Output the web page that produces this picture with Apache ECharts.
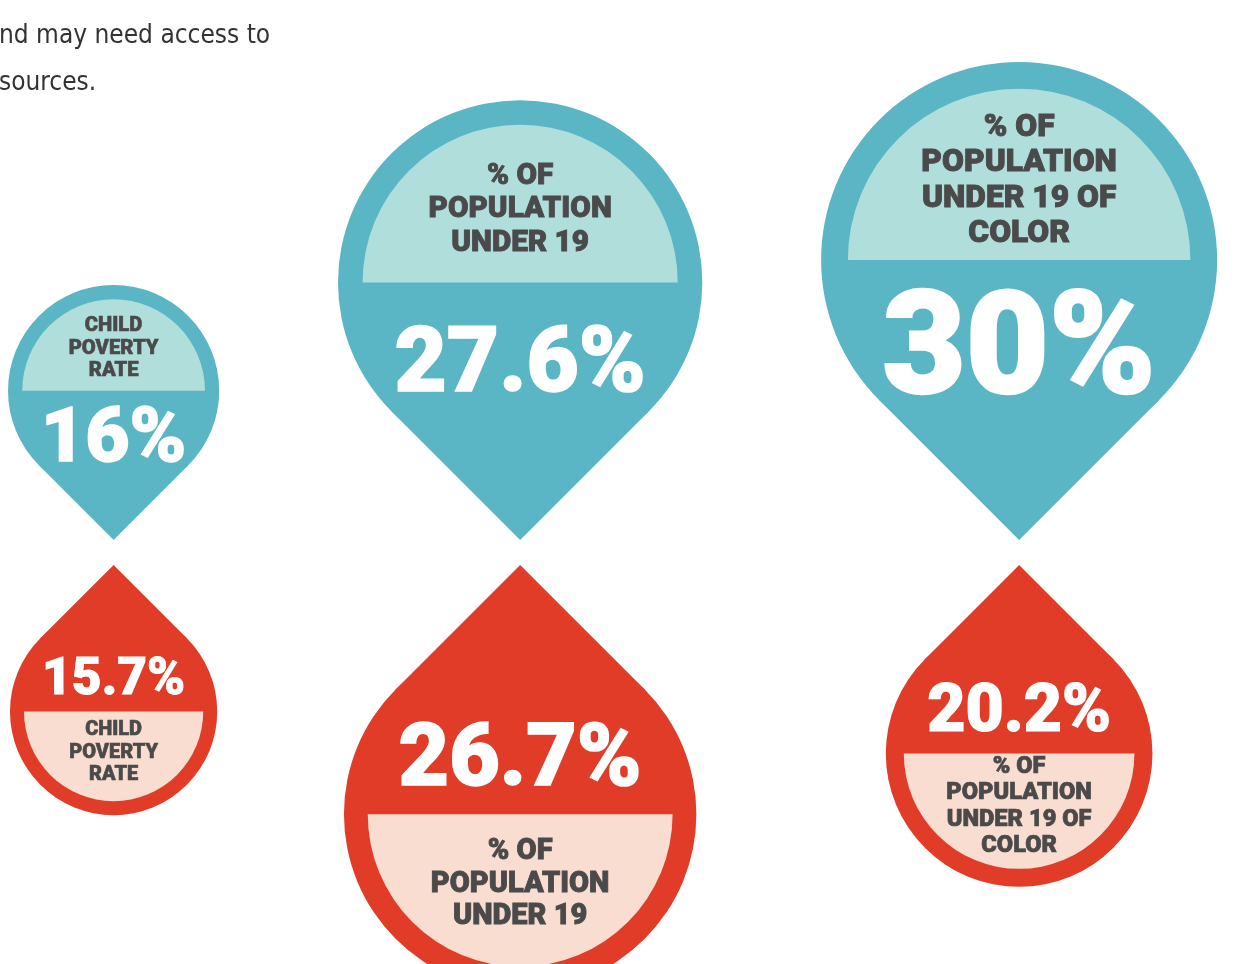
<!DOCTYPE html>
<html>
<head>
<meta charset="utf-8">
<title>Pins</title>
<script src="https://cdn.jsdelivr.net/npm/echarts@6/dist/echarts.min.js"></script>
<style>
  html, body { margin: 0; padding: 0; background: #fff; }
  #chart { width: 1236px; height: 964px; }
</style>
</head>
<body>
<div id="chart"></div>
<script>
// the three measures, one column each
const categories = ['Child poverty rate', '% of population under 19', '% of population under 19 of color'];
const panelLabels = ['CHILD\nPOVERTY\nRATE', '% OF\nPOPULATION\nUNDER 19', '% OF\nPOPULATION\nUNDER 19 OF\nCOLOR'];
// upper row (blue pins) and lower row (red drops), in percent
const topValues = [16, 27.6, 30];
const bottomValues = [15.7, 26.7, 20.2];

const UNIT_PX = 6.6;     // pixels per percentage point of radius
const GAP_UNITS = 18;    // space between columns, in the same units
const SQRT2 = Math.SQRT2;

const BLUE = '#5ab5c5';
const BLUE_LIGHT = '#b0dfdb';
const RED = '#e13c27';
const RED_LIGHT = '#f9ddd0';
const INK = '#4a4a4a';
const FONT = 'Roboto, Lato, sans-serif';

// pack the columns side by side, each as wide as its larger pin
const columnX = [];
let cursor = 0;
categories.forEach((c, i) => {
  const half = Math.max(topValues[i], bottomValues[i]);
  columnX.push(cursor + half);
  cursor += 2 * half + GAP_UNITS;
});
const totalUnits = cursor - GAP_UNITS;

const measureCtx = document.createElement('canvas').getContext('2d');
function fitSize(text, width) {
  measureCtx.font = '900 100px ' + FONT;
  return 100 * width / measureCtx.measureText(text).width;
}

function makeRenderer(isTop) {
  return function (params, api) {
    const i = api.value(2);
    const v = api.value(1);
    const tip = api.coord([api.value(0), isTop ? 1 : -1]);
    const r = api.size([v, 0])[0];
    const dir = isTop ? -1 : 1;
    const cx = tip[0];
    const cy = tip[1] + dir * SQRT2 * r;
    const d = r / SQRT2;
    const ri = r * 0.865;
    const bigText = v + '%';
    const bigSize = fitSize(bigText, r * 1.38);
    const labelSize = 7 + 0.125 * r;
    return {
      type: 'group',
      children: [
        { type: 'circle', shape: { cx: cx, cy: cy, r: r }, style: { fill: isTop ? BLUE : RED } },
        {
          type: 'polygon',
          shape: { points: [[cx, tip[1]], [cx - d, cy - dir * d], [cx, cy], [cx + d, cy - dir * d]] },
          style: { fill: isTop ? BLUE : RED }
        },
        {
          type: 'sector',
          shape: {
            cx: cx, cy: cy, r0: 0, r: ri,
            startAngle: isTop ? Math.PI : 0,
            endAngle: isTop ? 2 * Math.PI : Math.PI,
            clockwise: true
          },
          style: { fill: isTop ? BLUE_LIGHT : RED_LIGHT }
        },
        {
          type: 'text',
          style: {
            text: panelLabels[i],
            x: cx, y: cy + dir * 0.46 * ri,
            align: 'center', verticalAlign: 'middle',
            fontFamily: FONT, fontWeight: 900, fontSize: labelSize,
            lineHeight: labelSize * 1.12,
            fill: INK, stroke: INK, lineWidth: labelSize * 0.03
          }
        },
        {
          type: 'text',
          style: {
            text: bigText,
            x: cx, y: cy + (isTop ? 0.43 : -0.33) * r + 0.08 * bigSize,
            align: 'center', verticalAlign: 'middle',
            fontFamily: FONT, fontWeight: 900, fontSize: bigSize,
            fill: '#fff', stroke: '#fff', lineWidth: bigSize * 0.018
          }
        }
      ]
    };
  };
}

const chart = echarts.init(document.getElementById('chart'));
chart.setOption({
  animation: false,
  grid: { left: 8, width: totalUnits * UNIT_PX, top: 540, height: 25 },
  xAxis: { type: 'value', min: 0, max: totalUnits, show: false },
  yAxis: { type: 'value', min: -1, max: 1, show: false },
  graphic: [{
    type: 'text', left: -1, top: 13,
    style: {
      text: 'nd may need access to\nsources.',
      font: '26px "Liberation Sans Narrow", "DejaVu Sans Condensed", sans-serif',
      lineHeight: 47, fill: '#333'
    }
  }],
  series: [
    {
      name: 'Upper row',
      type: 'custom',
      renderItem: makeRenderer(true),
      data: topValues.map((v, i) => [columnX[i], v, i])
    },
    {
      name: 'Lower row',
      type: 'custom',
      renderItem: makeRenderer(false),
      data: bottomValues.map((v, i) => [columnX[i], v, i])
    }
  ]
});
</script>
</body>
</html>
